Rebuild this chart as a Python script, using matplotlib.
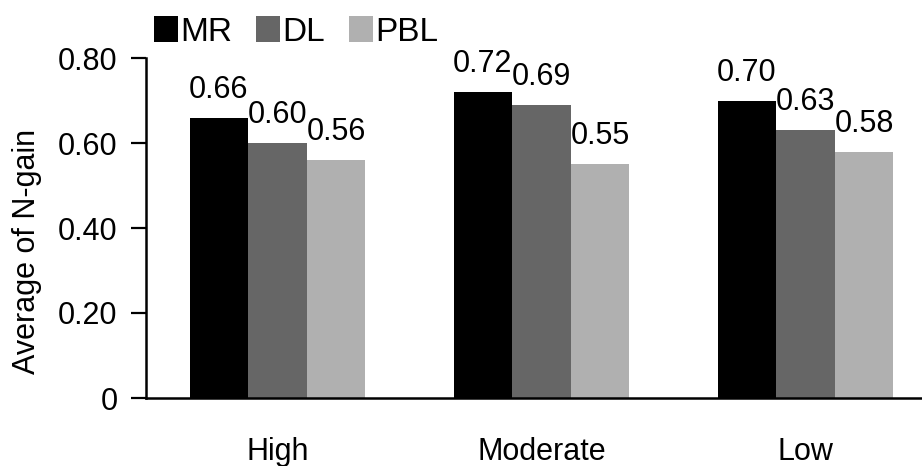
import numpy as np
import matplotlib
matplotlib.use("Agg")
from matplotlib import pyplot as plt

plt.rcParams['font.family'] = ['Liberation Sans', 'DejaVu Sans']

categories = ['High', 'Moderate', 'Low']
series = ['MR', 'DL', 'PBL']
mr = [0.66, 0.72, 0.70]
dl = [0.60, 0.69, 0.63]
pbl = [0.56, 0.55, 0.58]
colors = ['#000000', '#666666', '#b0b0b0']

W, H = 922, 466
fig = plt.figure(figsize=(W / 100, H / 100), dpi=100)
ax = fig.add_axes([145.5 / W, 68 / H, (W - 145.5) / W, 340 / H])

x = np.arange(len(categories))
width = 0.222
for i, (vals, name, c) in enumerate(zip([mr, dl, pbl], series, colors)):
    bars = ax.bar(x + (i - 1) * width, vals, width, color=c, label=name)
    for b, v in zip(bars, vals):
        ax.text(b.get_x() + b.get_width() / 2, v + 0.03, f'{v:.2f}',
                ha='center', va='bottom', fontsize=22, clip_on=False)

ax.set_xlim(-0.5, -0.5 + (W - 145.5) / 264)
ax.set_ylim(0, 0.8)
ax.set_yticks([0, 0.2, 0.4, 0.6, 0.8])
ax.set_yticklabels(['0', '0.20', '0.40', '0.60', '0.80'])
ax.set_xticks(x)
ax.set_xticklabels(categories)
ax.tick_params(axis='y', labelsize=22, length=11, width=1.6, pad=9)
ax.tick_params(axis='x', labelsize=22, length=0, pad=28)
ax.set_ylabel('Average of N-gain', fontsize=22)
ax.yaxis.set_label_coords(-0.133, 0.43)

for s in ['top', 'right']:
    ax.spines[s].set_visible(False)
ax.spines['left'].set_linewidth(1.8)
ax.spines['bottom'].set_linewidth(1.8)
ax.spines['left'].set_bounds(0, 0.8)

fig.legend(loc='upper left', bbox_to_anchor=(154 / W, 1 - 16 / H), ncol=3,
           frameon=False, fontsize=24, handlelength=0.72, handleheight=0.82,
           handletextpad=0.08, columnspacing=0.7, borderpad=0, borderaxespad=0)

fig.savefig('out.png', dpi=100)
